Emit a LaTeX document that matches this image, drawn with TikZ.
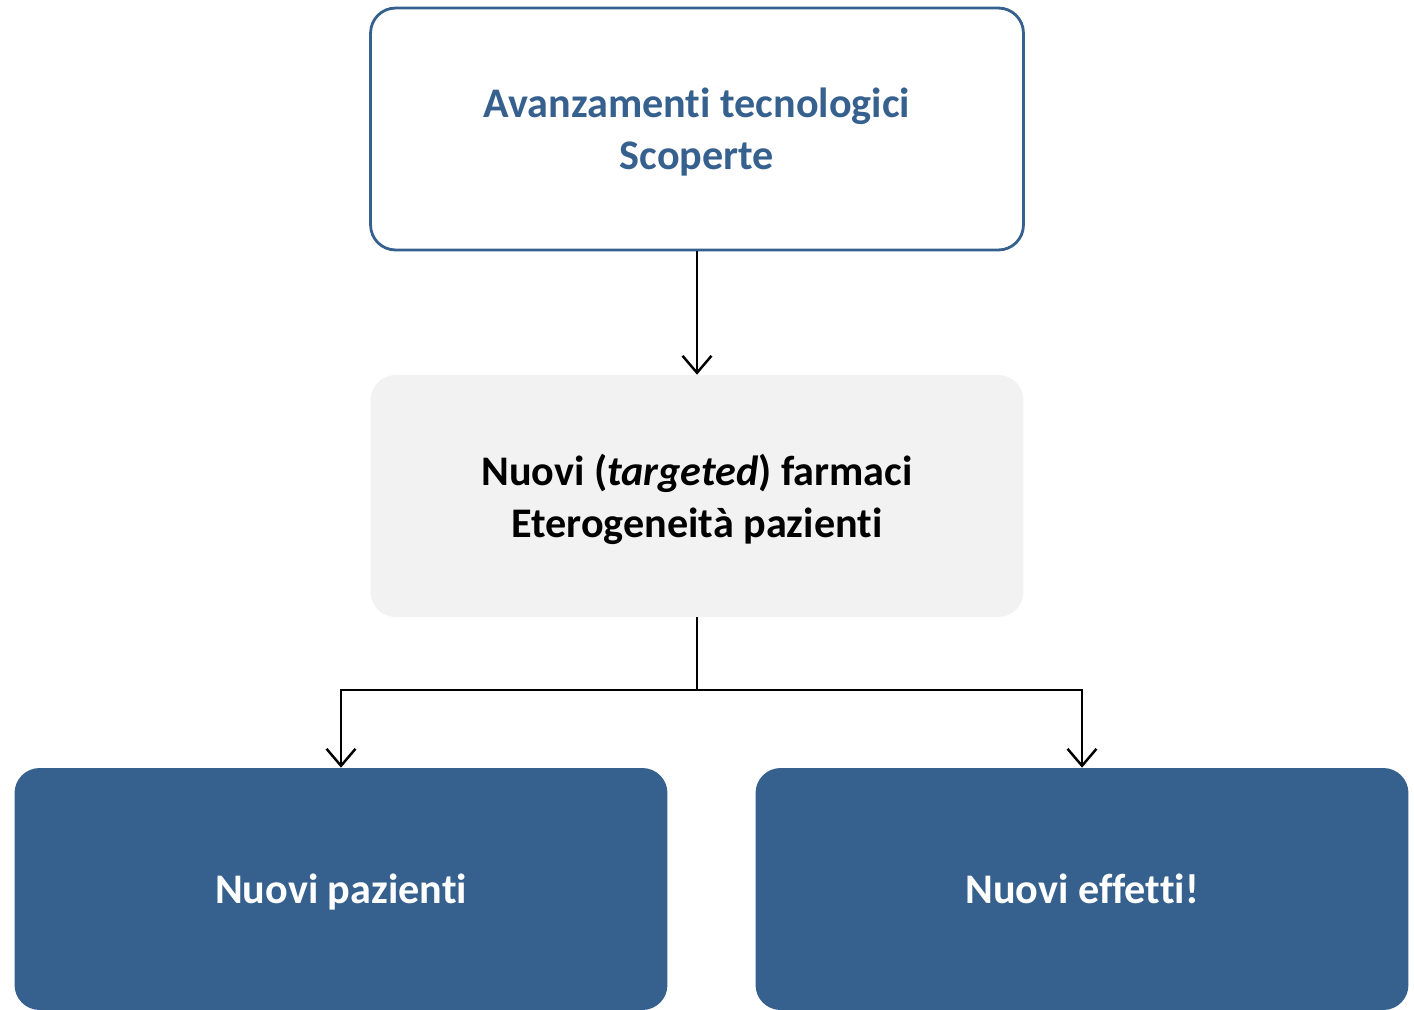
\documentclass[tikz,border=0pt]{standalone}
\usepackage{fontspec}
\setmainfont{Carlito}[RawFeature=-liga]
\usetikzlibrary{arrows.meta,positioning}
\definecolor{boxblue}{RGB}{54,97,142}
\definecolor{boxgrey}{RGB}{242,242,242}
\begin{document}
\begin{tikzpicture}[x=0.02cm,y=-0.02cm,
    box/.style={rounded corners=0.5cm, minimum width=13.06cm, minimum height=4.84cm,
      align=center, text depth=0pt, font=\fontsize{24}{29.5}\selectfont\bfseries},
    arr/.style={-{Straight Barb[length=0.34cm,width=0.58cm,line width=1.4pt]}, line width=1.4pt}]
    % page frame
    \useasboundingbox (0,0) rectangle (1414,1009);

    % boxes
    \node[box, draw=boxblue, line width=1.6pt, text=boxblue] (scoperte) at (697,129)
        {Avanzamenti tecnologici\\Scoperte};
    \node[box, fill=boxgrey] (farmaci) at (697,496)
        {Nuovi (\textit{targeted}) farmaci\\Eterogeneità pazienti};
    \node[box, fill=boxblue, text=white] (pazienti) at (341,889) {Nuovi pazienti};
    \node[box, fill=boxblue, text=white] (effetti) at (1082,889) {Nuovi effetti!};

    % connectors
    \coordinate (split) at (697,690);
    \draw[arr] (scoperte.south) -- (farmaci.north);
    \draw[line width=1.4pt] (farmaci.south) -- (split);
    \draw[arr] (split) -| (pazienti.north);
    \draw[arr] (split) -| (effetti.north);
\end{tikzpicture}
\end{document}
